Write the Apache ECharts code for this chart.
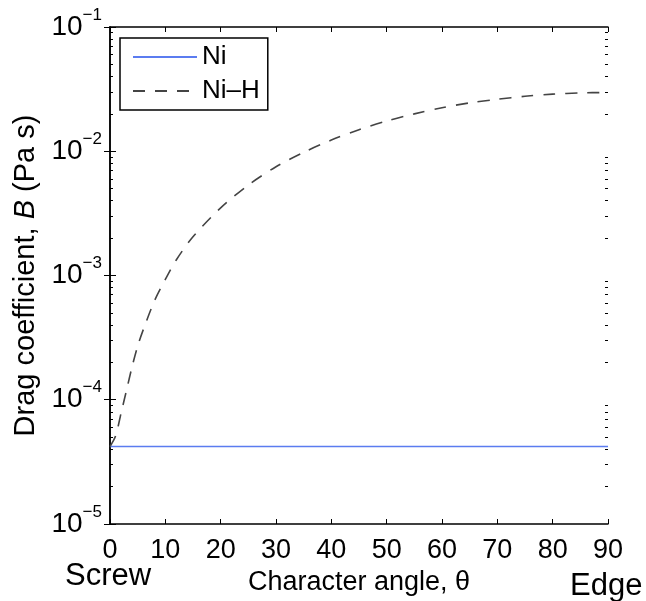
<!DOCTYPE html>
<html>
<head>
<meta charset="utf-8">
<script src="https://cdn.jsdelivr.net/npm/echarts@6/dist/echarts.min.js"></script>
<style>
html,body{margin:0;padding:0;background:#fff;}
#chart{width:646px;height:601px;}
</style>
</head>
<body>
<div id="chart"></div>
<script>
// ---- data ----
var angleNi = [0, 90];
var dragNi = [4.2e-5, 4.2e-5];

var angleNiH = [0, 1, 2, 3, 4, 5, 6, 8, 10, 12, 15, 20, 25, 30, 35, 40, 45, 50, 55, 60, 65, 70, 75, 80, 85, 90];
var dragNiH = [4.2e-5, 5.1e-5, 7.8e-5, 1.2e-4, 1.85e-4, 2.7e-4, 3.65e-4, 6.2e-4, 9.3e-4, 1.34e-3, 2.05e-3,
               3.5e-3, 5.35e-3, 7.5e-3, 9.8e-3, 1.23e-2, 1.49e-2, 1.75e-2, 2.0e-2, 2.24e-2, 2.45e-2,
               2.62e-2, 2.77e-2, 2.88e-2, 2.95e-2, 2.97e-2];

var xTicks = [0, 10, 20, 30, 40, 50, 60, 70, 80, 90];
var yDecades = [-5, -4, -3, -2, -1];
var minorMantissas = [2, 3, 4, 5, 6, 7, 8, 9];

var seriesNames = ['Ni', 'Ni\u2013H'];

// ---- build ----
function pairs(xs, ys) { return xs.map(function (x, i) { return [x, ys[i]]; }); }
// minor tick positions expressed as log10 values (for a linear helper axis spanning the same decades)
var minorLog = [];
for (var d = 0; d < yDecades.length - 1; d++) {
  for (var m = 0; m < minorMantissas.length; m++) {
    minorLog.push(yDecades[d] + Math.log(minorMantissas[m]) / Math.LN10);
  }
}
var FONT = '"Liberation Sans", Arial, Helvetica, sans-serif';
var dMin = yDecades[0], dMax = yDecades[yDecades.length - 1];
var yMin = Math.pow(10, dMin), yMax = Math.pow(10, dMax);

function minorAxis(pos) {
  return {
    type: 'value', min: dMin, max: dMax, position: pos,
    splitLine: { show: false },
    axisLine: { show: false },
    axisLabel: { show: false },
    axisTick: { show: true, inside: true, length: 3, customValues: minorLog, lineStyle: { color: '#000', width: 1 } }
  };
}

var chart = echarts.init(document.getElementById('chart'), null, { renderer: 'canvas' });
var option = {
  backgroundColor: '#fff',
  animation: false,
  textStyle: { fontFamily: FONT },
  title: [
    { text: 'Screw', left: 65, top: 561, textStyle: { fontSize: 31, fontWeight: 'normal', color: '#000', fontFamily: FONT }, padding: 0 },
    { text: 'Edge', left: 570, top: 571, textStyle: { fontSize: 31, fontWeight: 'normal', color: '#000', fontFamily: FONT }, padding: 0 }
  ],
  grid: { left: 110, right: 38, top: 27, bottom: 77, containLabel: false },
  legend: {
    orient: 'vertical', left: 120, top: 38,
    data: seriesNames,
    borderColor: '#000', borderWidth: 1.5, borderRadius: 0,
    padding: [6, 8, 6, 12],
    itemWidth: 64, itemHeight: 20, itemGap: 8,
    itemStyle: { opacity: 0 },
    textStyle: { fontSize: 26, color: '#000', fontFamily: FONT, lineHeight: 26 }
  },
  xAxis: [
    {
      type: 'value', min: xTicks[0], max: xTicks[xTicks.length - 1], interval: 10, position: 'bottom',
      name: 'Character angle, \u03b8', nameLocation: 'middle', nameGap: 29,
      nameTextStyle: { fontSize: 27, color: '#000', fontFamily: FONT },
      axisLine: { show: true, lineStyle: { color: '#000', width: 1.5 } },
      axisTick: { show: true, inside: true, length: 5, lineStyle: { color: '#000', width: 1 } },
      axisLabel: { fontSize: 27, color: '#000', margin: 13, fontFamily: FONT },
      splitLine: { show: false }
    },
    {
      type: 'value', min: xTicks[0], max: xTicks[xTicks.length - 1], interval: 10, position: 'top',
      axisLine: { show: true, lineStyle: { color: '#000', width: 1.5 } },
      axisTick: { show: true, inside: true, length: 5, lineStyle: { color: '#000', width: 1 } },
      axisLabel: { show: false },
      splitLine: { show: false }
    }
  ],
  yAxis: [
    {
      type: 'log', logBase: 10, min: yMin, max: yMax, position: 'left',
      name: 'Drag coefficient, {i|B} (Pa s)', nameLocation: 'middle', nameGap: 66, nameRotate: 90,
      nameTextStyle: { fontSize: 29, color: '#000', fontFamily: FONT,
        rich: { i: { fontSize: 29, fontStyle: 'italic', color: '#000', fontFamily: FONT } } },
      splitLine: { show: false },
      axisLine: { show: true, lineStyle: { color: '#000', width: 1.5 } },
      axisTick: { show: true, inside: true, length: 6, lineStyle: { color: '#000', width: 1 } },
      axisLabel: {
        margin: 8, color: '#000',
        formatter: function (v) {
          var e = Math.round(Math.log(v) / Math.LN10);
          return '{b|10}{s|' + (e < 0 ? '\u2212' : '') + Math.abs(e) + '}';
        },
        rich: {
          b: { fontSize: 28, color: '#000', fontFamily: FONT },
          s: { fontSize: 17, color: '#000', fontFamily: FONT, padding: [0, 0, 24, 0] }
        }
      }
    },
    {
      type: 'log', logBase: 10, min: yMin, max: yMax, position: 'right',
      splitLine: { show: false },
      axisLine: { show: true, lineStyle: { color: '#000', width: 1.5 } },
      axisTick: { show: true, inside: true, length: 6, lineStyle: { color: '#000', width: 1 } },
      axisLabel: { show: false }
    },
    minorAxis('left'),
    minorAxis('right')
  ],
  series: [
    {
      name: seriesNames[0], type: 'line', xAxisIndex: 0, yAxisIndex: 0,
      data: pairs(angleNi, dragNi), showSymbol: false, symbol: 'none',
      lineStyle: { color: '#5b7cf0', width: 1.6 }, itemStyle: { color: '#5b7cf0' }
    },
    {
      name: seriesNames[1], type: 'line', xAxisIndex: 0, yAxisIndex: 0,
      data: pairs(angleNiH, dragNiH), showSymbol: false, symbol: 'none', smooth: 0.3,
      lineStyle: { color: '#444', width: 1.6, type: [12, 10] }, itemStyle: { color: '#444' }
    }
  ]
};
chart.setOption(option);
</script>
</body>
</html>
